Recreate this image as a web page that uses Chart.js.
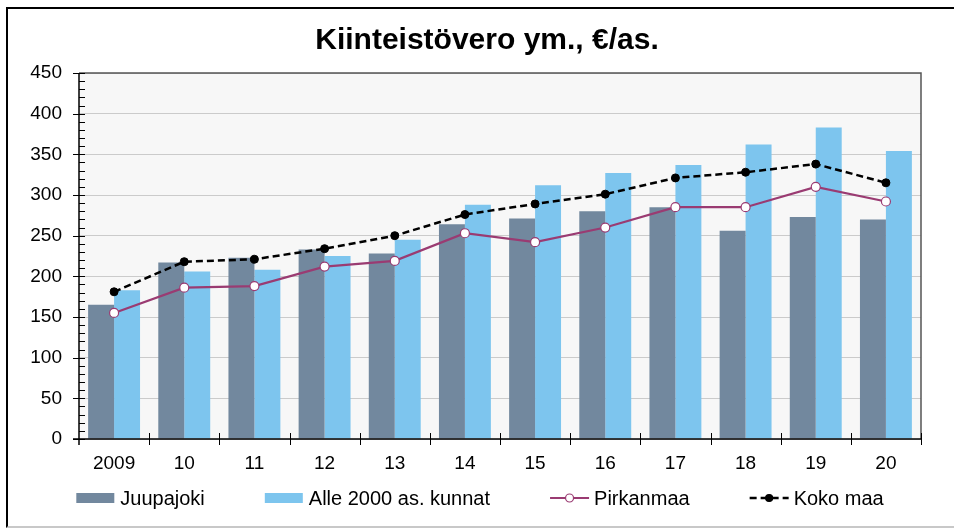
<!DOCTYPE html>
<html lang="fi">
<head>
<meta charset="utf-8">
<title>Kiinteistövero ym., €/as.</title>
<script src="https://cdn.jsdelivr.net/npm/chart.js@4.4.1/dist/chart.umd.min.js"></script>
<style>
  html, body { margin: 0; padding: 0; background: #fff; }
  #wrap { position: relative; width: 954px; height: 528px; overflow: hidden; }
  #kehys { position: absolute; left: 6px; top: 7px; width: 960px; height: 517px;
           border-top: 2px solid #000; border-left: 2px solid #000; border-bottom: 2px solid #c8c8c8;
           pointer-events: none; }
  canvas { position: absolute; left: 0; top: 0; }
</style>
</head>
<body>
<div id="wrap">
  <canvas id="kaavio" width="954" height="528"></canvas>
  <div id="kehys"></div>
</div>
<script>
// Kiinteistövero ym., €/asukas
const vuodet = ['2009', '10', '11', '12', '13', '14', '15', '16', '17', '18', '19', '20'];
const juupajoki = [165, 217, 223, 233, 228, 264, 271, 280, 285, 256, 273, 270];
const alle2000 = [183, 206, 208, 225, 245, 288, 312, 327, 337, 362, 383, 354];
const pirkanmaa = [155, 186, 188, 212, 219, 253, 242, 260, 285, 285, 310, 292];
const kokoMaa = [181, 218, 221, 234, 250, 276, 289, 301, 321, 328, 338, 315];
const yMax = 450;
const yAskel = 50;
const yPieniAskel = 10;

const FONTTI = '"Liberation Sans", Arial, sans-serif';
Chart.defaults.font.family = FONTTI;
Chart.defaults.color = '#000';

// tausta piirtoalueelle
const tausta = {
  id: 'tausta',
  beforeDraw(chart) {
    const { ctx, chartArea: a } = chart;
    ctx.save();
    ctx.fillStyle = '#fff';
    ctx.fillRect(0, 0, chart.width, chart.height);
    ctx.fillStyle = '#f7f7f7';
    ctx.fillRect(a.left, a.top, a.right - a.left, a.bottom - a.top);
    ctx.restore();
  }
};

// akselit, pääjaot ja apujaot
const akselit = {
  id: 'akselit',
  afterDatasetsDraw(chart) {
    const { ctx, chartArea: a, scales } = chart;
    const x = scales.x, y = scales.y;
    ctx.save();
    // reunaviivat ylhäällä ja oikealla
    ctx.strokeStyle = '#555';
    ctx.lineWidth = 1.5;
    ctx.beginPath();
    ctx.moveTo(a.left, a.top);
    ctx.lineTo(a.right, a.top);
    ctx.lineTo(a.right, a.bottom);
    ctx.stroke();

    ctx.strokeStyle = '#000';
    ctx.lineWidth = 1.5;
    ctx.beginPath();
    ctx.moveTo(a.left, a.top);
    ctx.lineTo(a.left, a.bottom + 6);
    ctx.moveTo(a.left - 6, a.bottom);
    ctx.lineTo(a.right, a.bottom);
    ctx.stroke();

    ctx.lineWidth = 1;
    ctx.beginPath();
    for (let v = 0; v <= yMax; v += yPieniAskel) {
      const py = Math.round(y.getPixelForValue(v)) + 0.5;
      const pää = v % yAskel === 0;
      ctx.moveTo(pää ? a.left - 6 : a.left, py);
      ctx.lineTo(a.left + 6, py);
    }
    // luokkarajat x-akselilla
    for (let i = 1; i <= vuodet.length; i++) {
      const px = i < vuodet.length
        ? (x.getPixelForValue(i - 1) + x.getPixelForValue(i)) / 2
        : a.right;
      const rx = Math.round(px) + 0.5;
      ctx.moveTo(rx, a.bottom - 6);
      ctx.lineTo(rx, a.bottom + 6);
    }
    ctx.stroke();
    ctx.restore();
  }
};

// selite alareunaan
const selite = {
  id: 'selite',
  afterDraw(chart) {
    const ctx = chart.ctx;
    const merkki = 39, väli = 5, erotin = 60;
    ctx.save();
    ctx.font = '20px ' + FONTTI;
    const osat = chart.data.datasets.map(ds => {
      return { ds: ds, w: merkki + väli + ctx.measureText(ds.label).width };
    });
    let yht = osat.reduce((s, o) => s + o.w, 0) + erotin * (osat.length - 1);
    let x = 480 - yht / 2;
    const y = 498;
    osat.forEach(o => {
      const ds = o.ds;
      if (ds.type === 'bar') {
        ctx.fillStyle = ds.backgroundColor;
        ctx.fillRect(x, y - 5, merkki - 1, 10);
      } else {
        ctx.strokeStyle = ds.borderColor;
        ctx.lineWidth = ds.borderWidth;
        ctx.setLineDash(ds.borderDash || []);
        ctx.beginPath();
        ctx.moveTo(x, y);
        ctx.lineTo(x + merkki, y);
        ctx.stroke();
        ctx.setLineDash([]);
        ctx.beginPath();
        ctx.arc(x + merkki / 2, y, ds.pointRadius - 0.5, 0, Math.PI * 2);
        ctx.fillStyle = ds.pointBackgroundColor;
        ctx.fill();
        ctx.lineWidth = 1.2;
        ctx.strokeStyle = ds.pointBorderColor;
        ctx.stroke();
      }
      ctx.fillStyle = '#000';
      ctx.textBaseline = 'middle';
      ctx.textAlign = 'left';
      ctx.fillText(ds.label, x + merkki + väli, y + 1);
      x += o.w + erotin;
    });
    ctx.restore();
  }
};

const ctx = document.getElementById('kaavio').getContext('2d');
new Chart(ctx, {
  type: 'bar',
  data: {
    labels: vuodet,
    datasets: [
      {
        type: 'bar',
        label: 'Juupajoki',
        data: juupajoki,
        backgroundColor: '#72889e',
        order: 3
      },
      {
        type: 'bar',
        label: 'Alle 2000 as. kunnat',
        data: alle2000,
        backgroundColor: '#7dc5ee',
        order: 3
      },
      {
        type: 'line',
        label: 'Pirkanmaa',
        data: pirkanmaa,
        borderColor: '#9a3b72',
        borderWidth: 2.2,
        pointRadius: 4.5,
        pointBackgroundColor: '#fff',
        pointBorderColor: '#9a3b72',
        pointBorderWidth: 1.2,
        tension: 0,
        order: 2
      },
      {
        type: 'line',
        label: 'Koko maa',
        data: kokoMaa,
        borderColor: '#000',
        borderWidth: 2.5,
        borderDash: [7, 4],
        pointRadius: 4,
        pointBackgroundColor: '#000',
        pointBorderColor: '#000',
        pointBorderWidth: 1,
        tension: 0,
        order: 1
      }
    ]
  },
  options: {
    responsive: false,
    animation: false,
    layout: { padding: { left: 20, right: 0, top: 0, bottom: 53 } },
    datasets: {
      bar: { categoryPercentage: 0.74, barPercentage: 1.0 }
    },
    plugins: {
      legend: { display: false },
      tooltip: { enabled: false },
      title: {
        display: true,
        text: 'Kiinteistövero ym., €/as.',
        color: '#000',
        font: { size: 30, weight: 'bold' },
        padding: { top: 23, bottom: 14 }
      }
    },
    scales: {
      x: {
        grid: { display: false, drawTicks: false },
        border: { display: false },
        ticks: { padding: 13, font: { size: 19 }, color: '#000', autoSkip: false, maxRotation: 0 },
        afterFit: s => { s.height = 36; }
      },
      y: {
        min: 0,
        max: yMax,
        grid: { color: '#cbcbcb', drawTicks: false, lineWidth: 1 },
        border: { display: false },
        ticks: { stepSize: yAskel, padding: 17, font: { size: 19 }, color: '#000' },
        afterFit: s => { s.width = 59; }
      },
      // tyhjä oikea reuna
      oikea: {
        position: 'right',
        display: true,
        grid: { display: false, drawTicks: false },
        border: { display: false },
        ticks: { display: false },
        afterFit: s => { s.width = 33; }
      }
    }
  },
  plugins: [tausta, akselit, selite]
});
</script>
</body>
</html>
